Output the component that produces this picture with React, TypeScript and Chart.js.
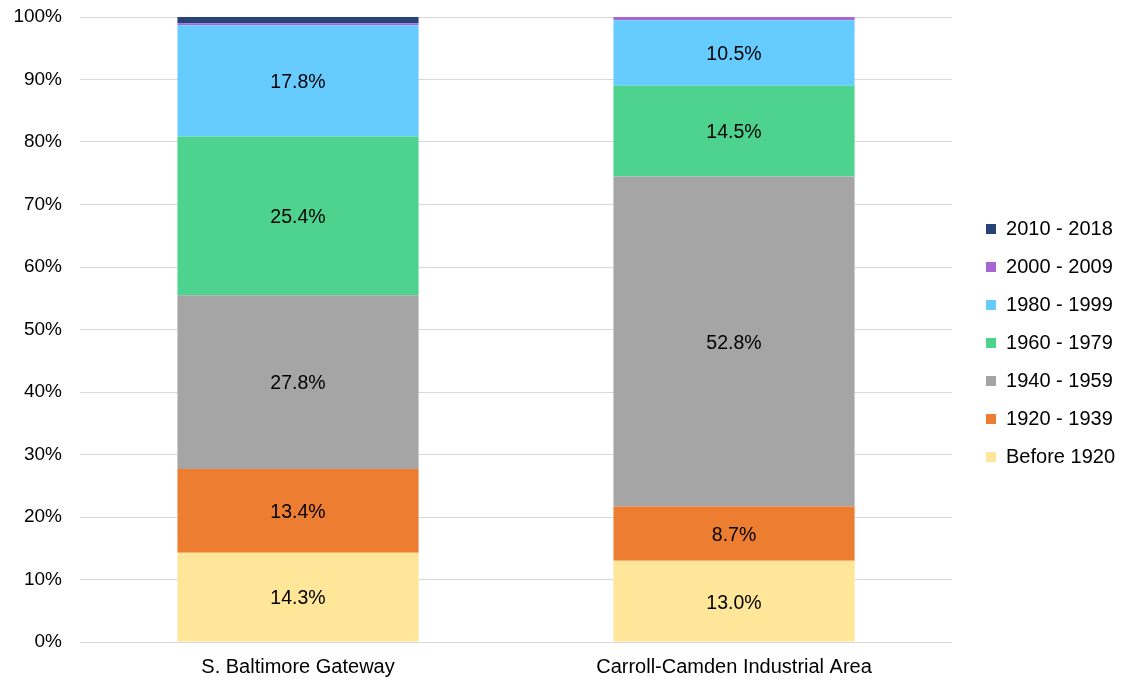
import React, { useEffect, useRef } from "react";
import { Chart, registerables } from "chart.js";

Chart.register(...registerables);

const categories = ["S. Baltimore Gateway", "Carroll-Camden Industrial Area"];
const seriesNames = ["Before 1920", "1920 - 1939", "1940 - 1959", "1960 - 1979", "1980 - 1999", "2000 - 2009", "2010 - 2018"];
const before1920 = [14.3, 13.0];
const y1920_1939 = [13.4, 8.7];
const y1940_1959 = [27.8, 52.8];
const y1960_1979 = [25.4, 14.5];
const y1980_1999 = [17.8, 10.5];
const y2000_2009 = [0.3, 0.5];
const y2010_2018 = [1.0, 0.0];
const seriesColors = ["#FFE699", "#ED7D31", "#A5A5A5", "#4DD38E", "#66CCFF", "#A666D6", "#264478"];
const yTicks = [0, 10, 20, 30, 40, 50, 60, 70, 80, 90, 100];

const FONT = "'Liberation Sans', Arial, sans-serif";
const LEGEND_FIT_EXTRA = 10;
const LEGEND_SHIFT = 16;

const labelPlugin = {
  id: "segLabels",
  afterDatasetsDraw(chart: any) {
    const ctx = chart.ctx;
    ctx.save();
    ctx.font = `19.5px ${FONT}`;
    ctx.fillStyle = "#000";
    ctx.textAlign = "center";
    ctx.textBaseline = "middle";
    chart.data.datasets.forEach((ds: any, di: number) => {
      const meta = chart.getDatasetMeta(di);
      meta.data.forEach((el: any, i: number) => {
        const v = ds.data[i];
        if (v < 5) return;
        const y = (el.y + el.base) / 2 + 2;
        ctx.fillText(v.toFixed(1) + "%", el.x, y);
      });
    });
    ctx.restore();
  },
};

const legendShift = {
  id: "legendShift",
  beforeLayout(chart: any) {
    const lg = chart.legend;
    if (lg && !lg._patched) {
      const orig = lg.fit.bind(lg);
      lg.fit = function () {
        orig();
        this.width += LEGEND_FIT_EXTRA;
      };
      lg._patched = true;
    }
  },
  afterLayout(chart: any) {
    const lg = chart.legend;
    if (lg) lg.left += LEGEND_SHIFT;
  },
};

export default function App() {
  const ref = useRef<HTMLCanvasElement>(null);
  useEffect(() => {
    const seriesData = [before1920, y1920_1939, y1940_1959, y1960_1979, y1980_1999, y2000_2009, y2010_2018];
    const chart = new Chart(ref.current!, {
      type: "bar",
      data: {
        labels: categories,
        datasets: seriesNames.map((name, i) => ({
          label: name,
          data: seriesData[i],
          backgroundColor: seriesColors[i],
          borderWidth: 0,
          barPercentage: 0.553,
          categoryPercentage: 1,
        })),
      },
      options: {
        animation: false,
        responsive: true,
        maintainAspectRatio: false,
        layout: { padding: { top: 5, bottom: 0, left: 14, right: 4 } },
        plugins: {
          tooltip: { enabled: false },
          legend: {
            position: "right",
            reverse: true,
            labels: {
              font: { family: FONT, size: 20 },
              color: "#000",
              boxWidth: 10,
              boxHeight: 10,
              padding: 18,
            },
          },
        },
        scales: {
          x: {
            stacked: true,
            grid: { display: false, drawTicks: false },
            border: { display: false },
            ticks: { font: { family: FONT, size: 20 }, color: "#000", padding: 13 },
            afterFit(scale: any) {
              scale.paddingLeft = 0;
              scale.paddingRight = 0;
              scale.height = 39;
            },
          },
          y: {
            stacked: true,
            min: 0,
            max: 100,
            afterBuildTicks(scale: any) {
              scale.ticks = yTicks.map((v) => ({ value: v }));
            },
            afterFit(scale: any) {
              scale.paddingTop = 17;
              scale.paddingBottom = 0;
              scale.width = 66;
            },
            grid: { color: "#D9D9D9", lineWidth: 1, drawTicks: false },
            border: { display: false },
            ticks: {
              font: { family: FONT, size: 19 },
              color: "#000",
              padding: 18,
              callback: (v: any) => v + "%",
            },
          },
        },
      },
      plugins: [labelPlugin, legendShift],
    });
    return () => chart.destroy();
  }, []);
  return (
    <div style={{ position: "fixed", left: 0, top: 0, width: 1123, height: 681, background: "#fff" }}>
      <canvas ref={ref} />
    </div>
  );
}
